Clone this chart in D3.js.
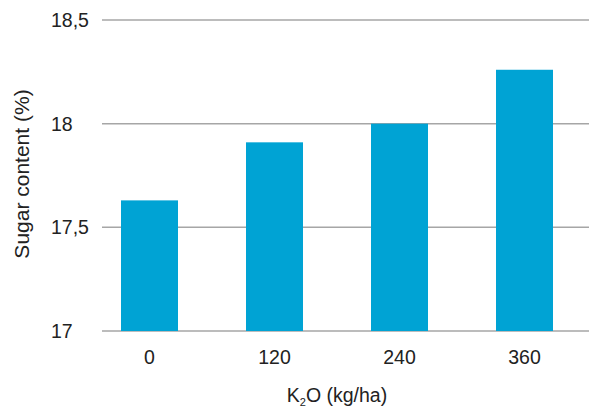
<!DOCTYPE html>
<html><head><meta charset="utf-8">
<script src="https://cdn.jsdelivr.net/npm/d3@7"></script>
<style>body{margin:0;background:#fff}svg{display:block}</style>
</head><body>
<script>
const categories = ["0","120","240","360"];
const values = [17.63, 17.91, 18.0, 18.26];
const yTicks = [17, 17.5, 18, 18.5];
const yTickLabels = ["17","17,5","18","18,5"];
const yTitle = "Sugar content (%)";

const W = 594, H = 410;
const svg = d3.select("body").append("svg").attr("width", W).attr("height", H);
const font = "'Liberation Sans', Arial, Helvetica, sans-serif";
const ink = "#222";

const x = d3.scaleBand().domain(categories).range([87, 587]).paddingInner(0.544).paddingOuter(0.272);
const y = d3.scaleLinear().domain([17, 18.5]).range([331, 20]);

// gridlines
svg.append("g").selectAll("line").data(yTicks).join("line")
  .attr("x1", 102).attr("x2", 589)
  .attr("y1", d => y(d)).attr("y2", d => y(d))
  .attr("stroke", "#a6a6a6").attr("stroke-width", 1.5);

// bars
svg.append("g").selectAll("rect").data(values).join("rect")
  .attr("x", (d, i) => x(categories[i]))
  .attr("width", x.bandwidth())
  .attr("y", d => y(d))
  .attr("height", d => y(17) - y(d))
  .attr("fill", "#00a3d4");

// y tick labels
svg.append("g").selectAll("text").data(yTicks).join("text")
  .attr("x", 51).attr("y", d => y(d) + 7)
  .attr("font-family", font).attr("font-size", 19.5).attr("fill", ink)
  .text((d, i) => yTickLabels[i]);

// x tick labels
svg.append("g").selectAll("text").data(categories).join("text")
  .attr("x", d => x(d) + x.bandwidth() / 2).attr("y", 364)
  .attr("text-anchor", "middle")
  .attr("font-family", font).attr("font-size", 19.5).attr("fill", ink)
  .text(d => d);

// x title with subscript
const xt = svg.append("text").attr("x", 337).attr("y", 402).attr("text-anchor", "middle")
  .attr("font-family", font).attr("font-size", 19.5).attr("fill", ink);
xt.append("tspan").text("K");
xt.append("tspan").attr("font-size", 11).attr("dy", 4).text("2");
xt.append("tspan").attr("dy", -4).text("O (kg/ha)");

// y title
svg.append("text").attr("transform", "translate(29,174) rotate(-90)")
  .attr("text-anchor", "middle")
  .attr("font-family", font).attr("font-size", 21).attr("fill", ink)
  .text(yTitle);
</script>
</body></html>
